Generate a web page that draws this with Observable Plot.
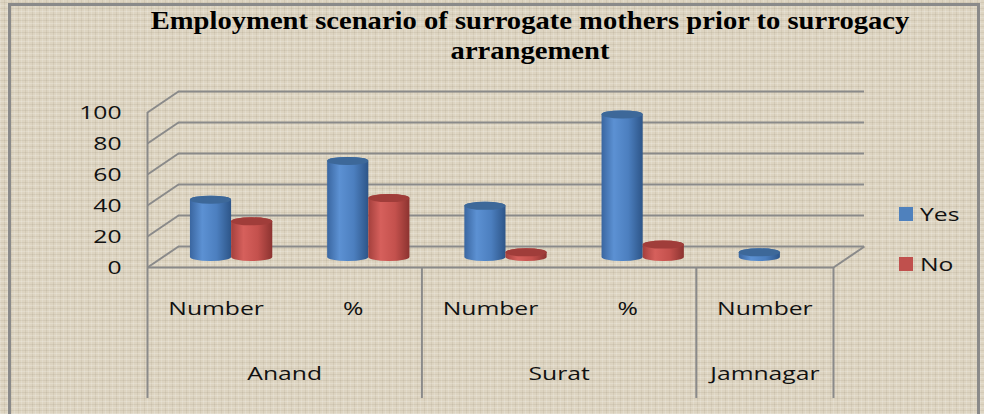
<!DOCTYPE html>
<html>
<head>
<meta charset="utf-8">
<script src="https://cdn.jsdelivr.net/npm/d3@7"></script>
<script src="https://cdn.jsdelivr.net/npm/@observablehq/plot@0.6"></script>
<style>
  html, body { margin: 0; padding: 0; }
  body {
    width: 984px; height: 414px; overflow: hidden; position: relative;
    background-color: #ddd4c1;
    background-image:
      repeating-linear-gradient(0deg, rgba(255,255,255,0.18) 0px, rgba(255,255,255,0.18) 1px, rgba(0,0,0,0) 1px, rgba(0,0,0,0) 3px, rgba(120,105,80,0.10) 3px, rgba(120,105,80,0.10) 4px, rgba(0,0,0,0) 4px, rgba(0,0,0,0) 6px),
      repeating-linear-gradient(90deg, rgba(255,255,255,0.16) 0px, rgba(255,255,255,0.16) 1px, rgba(0,0,0,0) 1px, rgba(0,0,0,0) 4px, rgba(120,105,80,0.10) 4px, rgba(120,105,80,0.10) 5px, rgba(0,0,0,0) 5px, rgba(0,0,0,0) 7px);
  }
  #frame {
    position: absolute; left: 8px; top: 3px; width: 972px; height: 420px;
    border-left: 3px solid #8a8a8a; border-top: 3px solid #8a8a8a; border-right: 3px solid #8a8a8a;
    box-sizing: border-box;
  }
  #title {
    position: absolute; left: 530px; top: 6px; width: 0; height: 60px;
  }
  #title div {
    position: absolute; left: 0; white-space: nowrap;
    transform: translateX(-50%) scaleX(1.1);
    font-family: "Liberation Serif", serif; font-weight: bold; font-size: 26px; color: #000;
  }
  #chart { position: absolute; left: 0; top: 0; }
  .legend { position: absolute; left: 899px; font-family: "Open Sans", sans-serif; font-size: 19px; color: #111; }
  .legend span.sw { position: absolute; left: 0; width: 14px; height: 14px; }
  .legend span.tx { position: absolute; left: 21px; line-height: 14px; transform: scaleX(1.3); transform-origin: left center; }
</style>
</head>
<body>
<div id="frame"></div>
<div id="title"></div>
<div id="chart"></div>
<div id="legend"></div>
<script>
// ---- data ----
const titleLines = ["Employment scenario of surrogate mothers prior to surrogacy", "arrangement"];
const cities = ["Anand", "Anand", "Surat", "Surat", "Jamnagar"];
const measures = ["Number", "%", "Number", "%", "Number"];
const series = ["Yes", "No"];
const yesValues = [37, 62, 33, 92, 3];
const noValues = [23, 38, 3, 8, 0];
const yTicks = [0, 20, 40, 60, 80, 100];
const seriesColors = ["#4f81bd", "#c0504d"];

// ---- derived tables ----
const bars = [];
measures.forEach((m, i) => {
  bars.push({i, series: "Yes", value: yesValues[i]});
  bars.push({i, series: "No", value: noValues[i]});
});
const drawn = bars.filter(d => d.value > 0);
const groups = [];
cities.forEach((c, i) => {
  const g = groups[groups.length - 1];
  if (g && g.name === c) g.count++;
  else groups.push({name: c, start: i, count: 1});
});
const boundaries = groups.map(g => g.start).concat([cities.length]);

// depth offsets (pseudo 3-D): front plane and back wall relative to bar plane
const FX = -15.5, FY = 10, BX = 15.5, BY = -11;
const xDepth = 15.5 / 137.2;          // in x units
const yFrontOff = FY / 1.55;          // front plane sits lower (y units)
const yBackOff = -BY / 1.55;          // back wall sits higher (y units)
const barHalf = 0.15;                 // half of one bar, in category units
const lineColor = "#8a8a8a";
const font = '"Open Sans", sans-serif';

const fillOf = d => d.series === "Yes" ? "url(#gYes)" : "url(#gNo)";
const capOf = d => d.series === "Yes" ? "#3d6899" : "#a03d3a";
const x1Of = d => d.series === "Yes" ? d.i + 0.5 - 2 * barHalf : d.i + 0.5;
const x2Of = d => d.series === "Yes" ? d.i + 0.5 : d.i + 0.5 + 2 * barHalf;

const chart = Plot.plot({
  width: 984,
  height: 414,
  margin: 0,
  style: {background: "transparent", overflow: "visible"},
  x: {type: "linear", domain: [0, cities.length], range: [162.5, 848.5], axis: null},
  y: {type: "linear", domain: [0, 100], range: [257, 102], axis: null},
  marks: [
    // back wall gridlines
    Plot.ruleY(yTicks, {y: d => d, x1: 0, x2: cities.length, dx: BX, dy: BY, stroke: lineColor, strokeWidth: 2}),
    // side wall diagonals
    Plot.link(yTicks, {x1: -xDepth, y1: d => d - yFrontOff, x2: xDepth, y2: d => d + yBackOff, stroke: lineColor, strokeWidth: 2}),
    // front vertical axis line
    Plot.ruleX([0], {x: d => d, y1: 0, y2: 100, dx: FX, dy: FY, stroke: lineColor, strokeWidth: 2}),
    // floor: front edge and right diagonal
    Plot.ruleY([0], {y: d => d, x1: 0, x2: cities.length, dx: FX, dy: FY, stroke: lineColor, strokeWidth: 2}),
    Plot.link([cities.length], {x1: d => d - xDepth, y1: -yFrontOff, x2: d => d + xDepth, y2: yBackOff, stroke: lineColor, strokeWidth: 2}),
    // category table separators
    Plot.ruleX(boundaries, {x: d => d, y1: 0, y2: -84.5, dx: FX, dy: FY, stroke: lineColor, strokeWidth: 2}),
    // cylinder bodies
    Plot.rectY(drawn, {x1: x1Of, x2: x2Of, y1: 0, y2: "value", fill: fillOf, rx: 20, ry: 4, insetTop: -4, insetBottom: -4}),
    // cylinder caps
    Plot.rectY(drawn, {x1: x1Of, x2: x2Of, y1: "value", y2: "value", fill: capOf, rx: 20, ry: 4, insetTop: -4, insetBottom: -4}),
    // y tick labels (front plane)
    Plot.text(yTicks, {x: 0, y: d => d, text: d => String(d), dx: FX - 26, dy: FY, textAnchor: "end", fontSize: 19, fontFamily: font, fill: "#111", letterSpacing: 1}),
    // measure labels
    Plot.text(measures, {x: (d, i) => i + 0.5, y: 0, text: d => d, dx: FX, dy: 51, fontSize: 19, fontFamily: font, fill: "#111", letterSpacing: 1}),
    // city labels
    Plot.text(groups, {x: g => g.start + g.count / 2, y: 0, text: g => g.name, dx: FX, dy: 116, fontSize: 19, fontFamily: font, fill: "#111", letterSpacing: 1})
  ]
});

// stretch the labels horizontally like the original picture
chart.querySelectorAll("text").forEach(el => {
  const tr = el.getAttribute("transform");
  if (tr && tr.includes("translate")) {
    el.setAttribute("transform", tr + " scale(1.3,1)");
  } else {
    const x = +(el.getAttribute("x") || 0), y = +(el.getAttribute("y") || 0);
    el.setAttribute("transform", `translate(${x},${y}) scale(1.3,1) translate(${-x},${-y})`);
  }
});

// gradients for the cylinders
const ns = "http://www.w3.org/2000/svg";
const defs = document.createElementNS(ns, "defs");
const grad = (id, stops) => {
  const g = document.createElementNS(ns, "linearGradient");
  g.setAttribute("id", id);
  g.setAttribute("x1", "0"); g.setAttribute("x2", "1"); g.setAttribute("y1", "0"); g.setAttribute("y2", "0");
  stops.forEach(([o, c]) => {
    const s = document.createElementNS(ns, "stop");
    s.setAttribute("offset", o); s.setAttribute("stop-color", c);
    g.appendChild(s);
  });
  defs.appendChild(g);
};
grad("gYes", [["0", "#3a66a0"], ["0.3", "#5c91d3"], ["0.65", "#4c7fbf"], ["1", "#2d5588"]]);
grad("gNo", [["0", "#a4403d"], ["0.3", "#d6605c"], ["0.65", "#c4514d"], ["1", "#8c3330"]]);
chart.insertBefore(defs, chart.firstChild);
document.getElementById("chart").appendChild(chart);

// title
const t = document.getElementById("title");
titleLines.forEach((line, k) => {
  const d = document.createElement("div");
  d.textContent = line;
  d.style.top = (k * 30) + "px";
  t.appendChild(d);
});

// legend
const lg = document.getElementById("legend");
series.forEach((s, k) => {
  const row = document.createElement("div");
  row.className = "legend";
  row.style.top = (207 + k * 50) + "px";
  row.innerHTML = `<span class="sw" style="background:${seriesColors[k]}"></span><span class="tx">${s}</span>`;
  lg.appendChild(row);
});
</script>
</body>
</html>
